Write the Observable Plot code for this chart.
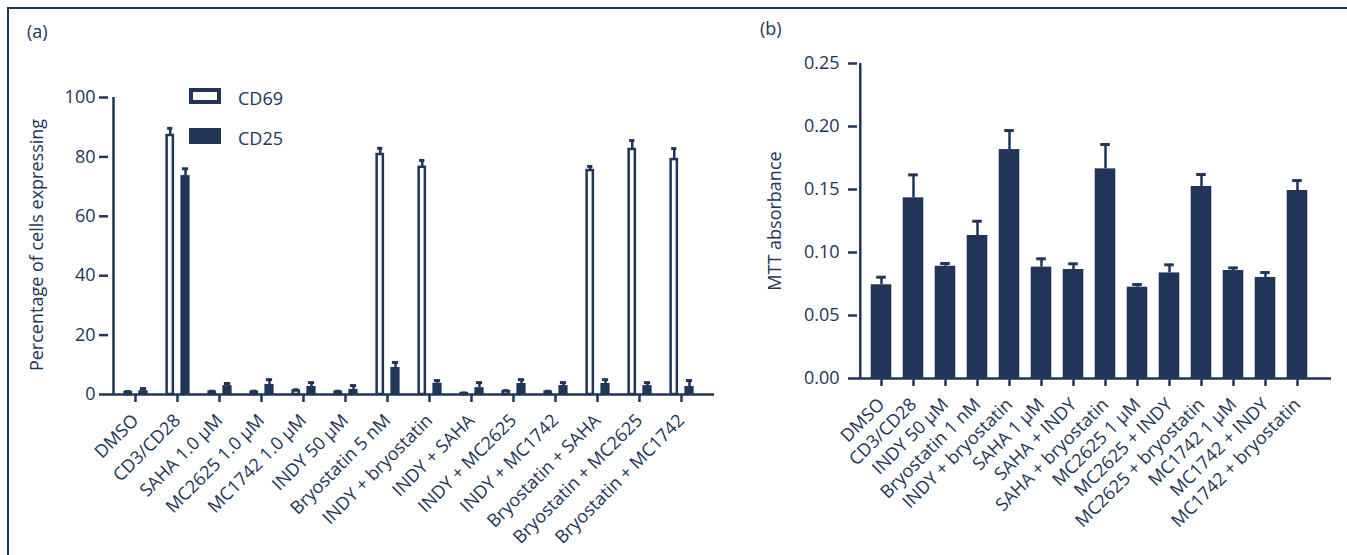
<!DOCTYPE html>
<html><head><meta charset="utf-8">
<script src="https://cdn.jsdelivr.net/npm/d3@7"></script>
<script src="https://cdn.jsdelivr.net/npm/@observablehq/plot@0.6"></script>
<style>
body{margin:0;background:#fff;}
#page{position:relative;width:1347px;height:555px;overflow:hidden;font-family:"Open Sans",sans-serif;color:#213559;background:#fff;}
#page > svg, #page > div{position:absolute;}
</style></head><body><div id="page"></div>
<script>
const navy = "#213559";

// ---- Panel (a) data ----
const catsA = ["DMSO","CD3/CD28","SAHA 1.0 µM","MC2625 1.0 µM","MC1742 1.0 µM","INDY 50 µM","Bryostatin 5 nM","INDY + bryostatin","INDY + SAHA","INDY + MC2625","INDY + MC1742","Bryostatin + SAHA","Bryostatin + MC2625","Bryostatin + MC1742"];
const cd69    = [0.7, 87.2, 0.8, 0.8, 1.2, 0.8, 80.8, 76.5, 0.3, 1.0, 0.8, 75.4, 82.5, 79.1];
const cd69Err = [0.3, 2.4, 0.3, 0.3, 0.4, 0.3, 2.1, 2.3, 0.2, 0.3, 0.3, 1.4, 3.0, 3.7];
const cd25    = [1.3, 73.7, 3.0, 3.4, 2.7, 1.7, 9.1, 3.8, 2.3, 3.7, 3.0, 3.7, 3.0, 2.7];
const cd25Err = [0.7, 2.3, 0.7, 1.6, 1.3, 1.3, 1.7, 0.9, 1.7, 1.3, 1.0, 1.3, 1.0, 2.0];
const ticksA  = [0, 20, 40, 60, 80, 100];
const seriesA = ["CD69", "CD25"];

// ---- Panel (b) data ----
const catsB = ["DMSO","CD3/CD28","INDY 50 µM","Bryostatin 1 nM","INDY + bryostatin","SAHA 1 µM","SAHA + INDY","SAHA + bryostatin","MC2625 1 µM","MC2625 + INDY","MC2625 + bryostatin","MC1742 1 µM","MC1742 + INDY","MC1742 + bryostatin"];
const mtt    = [0.0744,0.1434,0.0891,0.1135,0.1817,0.0884,0.0865,0.1664,0.0725,0.0838,0.1524,0.0857,0.0802,0.1492];
const mttErr = [0.0060,0.0182,0.0022,0.0113,0.0151,0.0066,0.0045,0.0193,0.0021,0.0064,0.0095,0.0021,0.0039,0.0079];
const ticksB = [0, 0.05, 0.10, 0.15, 0.20, 0.25];

const page = document.getElementById("page");
const style = {fontFamily: '"Open Sans", sans-serif', fontSize: "18px", color: navy, background: "transparent", overflow: "visible"};

// ---------- Panel (a) ----------
const rowsA = catsA.map((c, i) => ({cat: c, cd69: cd69[i], cd69Hi: cd69[i] + cd69Err[i], cd25: cd25[i], cd25Hi: cd25[i] + cd25Err[i]}));
const WA = 730, HA = 555;
const mA = {left: 108, right: 16, top: 97, bottom: 161};
const rangeA = [108.6, 707.4];
const halfA = (rangeA[1] - rangeA[0]) / catsA.length / 2;

const plotA = Plot.plot({
  width: WA, height: HA,
  marginLeft: mA.left, marginRight: mA.right, marginTop: mA.top, marginBottom: mA.bottom,
  style,
  x: {type: "band", domain: catsA, range: rangeA, padding: 0},
  y: {domain: [0, 100]},
  marks: [
    Plot.barY(rowsA, {x: "cat", y: "cd69", fill: "white", stroke: navy, strokeWidth: 2.5,
      insetLeft: halfA - 10.75, insetRight: halfA + 3.75}),
    Plot.barY(rowsA, {x: "cat", y: "cd25", fill: navy,
      insetLeft: halfA + 3, insetRight: halfA - 13}),
    Plot.ruleX(rowsA, {x: "cat", y1: "cd69", y2: "cd69Hi", dx: -7.25, stroke: navy, strokeWidth: 2.5}),
    Plot.tickY(rowsA, {x: "cat", y: "cd69Hi", stroke: navy, strokeWidth: 3, insetLeft: halfA - 10.25, insetRight: halfA + 4.25}),
    Plot.ruleX(rowsA, {x: "cat", y1: "cd25", y2: "cd25Hi", dx: 8, stroke: navy, strokeWidth: 2.5}),
    Plot.tickY(rowsA, {x: "cat", y: "cd25Hi", stroke: navy, strokeWidth: 3, insetLeft: halfA + 4.5, insetRight: halfA - 11.5}),
    Plot.ruleY([0], {stroke: navy, strokeWidth: 2.5}),
    Plot.ruleX([catsA[0]], {x: d => d, y1: 0, y2: 100, dx: mA.left - (rangeA[0] + halfA), stroke: navy, strokeWidth: 2.5}),
    Plot.axisY(ticksA, {tickSize: 9, tickPadding: 4, stroke: navy, strokeWidth: 2.5, fill: navy, fontSize: 18, label: null}),
    Plot.axisX({tickSize: 8, tickPadding: 15, tickRotate: -45, stroke: navy, strokeWidth: 2.5, fill: navy, fontSize: 18, label: null})
  ]
});
plotA.style.left = "0px"; plotA.style.top = "0px";
page.appendChild(plotA);

// ---------- Panel (b) ----------
const rowsB = catsB.map((c, i) => ({cat: c, v: mtt[i], hi: mtt[i] + mttErr[i]}));
const WB = 617, HB = 555;
const mB = {left: 127, right: 16, top: 63, bottom: 177};
const rangeB = [132, 586];
const halfB = (rangeB[1] - rangeB[0]) / catsB.length / 2;

const plotB = Plot.plot({
  width: WB, height: HB,
  marginLeft: mB.left, marginRight: mB.right, marginTop: mB.top, marginBottom: mB.bottom,
  style,
  x: {type: "band", domain: catsB, range: rangeB, padding: 0},
  y: {domain: [0, 0.25]},
  marks: [
    Plot.ruleX(rowsB, {x: "cat", y1: "v", y2: "hi", stroke: navy, strokeWidth: 2.5}),
    Plot.tickY(rowsB, {x: "cat", y: "hi", stroke: navy, strokeWidth: 3, insetLeft: halfB - 5, insetRight: halfB - 5}),
    Plot.barY(rowsB, {x: "cat", y: "v", fill: navy, insetLeft: halfB - 10.5, insetRight: halfB - 10.5}),
    Plot.ruleY([0], {stroke: navy, strokeWidth: 2.5}),
    Plot.ruleX([catsB[0]], {x: d => d, y1: 0, y2: 0.25, dx: mB.left - (rangeB[0] + halfB), stroke: navy, strokeWidth: 2.5}),
    Plot.axisY(ticksB, {tickSize: 9, tickPadding: 9, tickFormat: d3.format(".2f"), stroke: navy, strokeWidth: 2.5, fill: navy, fontSize: 18, label: null}),
    Plot.axisX({tickSize: 8, tickPadding: 15, tickRotate: -45, stroke: navy, strokeWidth: 2.5, fill: navy, fontSize: 18, label: null})
  ]
});
plotB.style.left = "730px"; plotB.style.top = "0px";
page.appendChild(plotB);

// ---------- Overlay: borders, panel letters, axis titles, legend ----------
const ov = d3.select(page).append("svg")
  .attr("width", 1347).attr("height", 555)
  .style("left", "0px").style("top", "0px").style("pointer-events", "none")
  .style("font-family", '"Open Sans", sans-serif').style("font-size", "18px");
ov.append("line").attr("x1", 7).attr("x2", 1347).attr("y1", 8).attr("y2", 8).attr("stroke", navy).attr("stroke-width", 2);
ov.append("line").attr("x1", 8).attr("x2", 8).attr("y1", 7).attr("y2", 555).attr("stroke", navy).attr("stroke-width", 2);
ov.append("text").attr("x", 27).attr("y", 38).attr("fill", navy).text("(a)");
ov.append("text").attr("x", 760).attr("y", 35).attr("fill", navy).text("(b)");
ov.append("text").attr("transform", "translate(43,245) rotate(-90)").attr("text-anchor", "middle").attr("fill", navy).text("Percentage of cells expressing");
ov.append("text").attr("transform", "translate(781,221) rotate(-90)").attr("text-anchor", "middle").attr("fill", navy).text("MTT absorbance");
// legend
const leg = ov.append("g");
seriesA.forEach((s, i) => {
  const y0 = 88 + i * 40;
  if (i === 0) {
    leg.append("rect").attr("x", 191).attr("y", y0 + 2).attr("width", 28).attr("height", 12).attr("fill", "white").attr("stroke", navy).attr("stroke-width", 4);
  } else {
    leg.append("rect").attr("x", 189).attr("y", y0).attr("width", 32).attr("height", 16).attr("fill", navy);
  }
  leg.append("text").attr("x", 238).attr("y", y0 + 17).attr("fill", navy).text(s);
});
</script></body></html>
